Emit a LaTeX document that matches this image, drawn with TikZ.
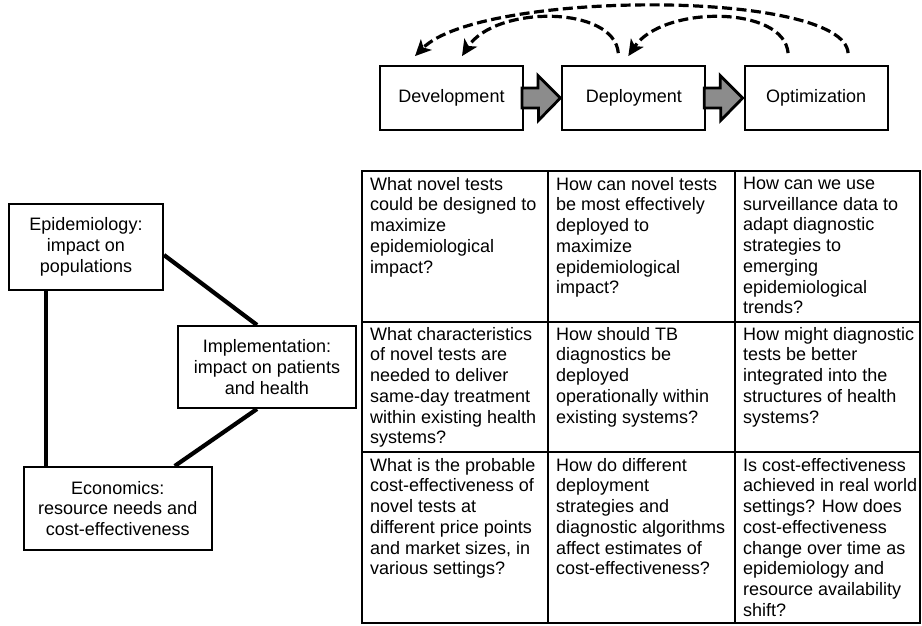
\documentclass[tikz,border=0pt]{standalone}
\usepackage{fontspec}
\setmainfont{Liberation Sans}
\usetikzlibrary{arrows.meta,positioning}

\begin{document}
\begin{tikzpicture}[x=1pt,y=1pt,font=\fontsize{18}{20.7}\selectfont,
        stagebox/.style={draw,line width=1.8pt,minimum width=143pt,minimum height=64pt,inner sep=0pt},
        topicbox/.style={draw,line width=2pt,align=center,inner sep=0pt},
        question/.style={anchor=north west,align=left,inner sep=0pt},
        pushto/.style={draw,fill=black!45,line width=2.8pt,line join=miter},
        feedback/.style={line width=3.2pt,dash pattern=on 10pt off 4.5pt,-{Stealth[length=16pt,width=15pt,inset=4pt]}},
        tie/.style={line width=4.2pt},
        tabrule/.style={line width=2.2pt}]
        \useasboundingbox (0,0) rectangle (922,625);

        \node[stagebox] (dev) at (451.5,527) {Development};
        \node[stagebox,right=37.5pt of dev] (dep) {Deployment};
        \node[stagebox,right=37.5pt of dep] (opt) {Optimization};
        \foreach \a/\b in {dev/dep,dep/opt}
            \draw[pushto] ([shift={(-2,10)}]\a.east) -- ++(16,0) -- ++(0,12.5) -- ([xshift=-1]\b.west)
            -- ++(-22,-22.5) -- ++(0,12.5) -- ([shift={(-2,-10)}]\a.east) -- cycle;
        \draw[feedback] ([shift={(32,12)}]opt.north) .. controls +(-4,64) and +(65,66) .. ([shift={(-36.5,9)}]dev.north);
        \draw[feedback] ([shift={(-15.5,12)}]dep.north) .. controls +(-4,48) and +(33,51) .. ([shift={(10.5,9)}]dev.north);
        \draw[feedback] ([shift={(-28,12)}]opt.north) .. controls +(-4,48) and +(34,51) .. ([shift={(-5.5,9)}]dep.north);

        \node[topicbox,minimum width=154pt,minimum height=86pt] (epi) at (86,378) {Epidemiology:\\impact on\\populations};
        \node[topicbox,minimum width=178pt,minimum height=82pt] (imp) at (267,258) {Implementation:\\impact on patients\\and health};
        \node[topicbox,minimum width=188.5pt,minimum height=83pt] (eco) at (117.75,116.5) {Economics:\\resource needs and\\cost-effectiveness};
        \draw[tie] ([xshift=-40]epi.south) -- ([xshift=-40]epi.south |- eco.north);
        \draw[tie] ([yshift=-8]epi.east) -- ([xshift=-10]imp.north);
        \draw[tie] ([xshift=-10]imp.south) -- ([xshift=57]eco.north);

        \draw[tabrule] (362,454) rectangle (920,2);
        \foreach \x in {548,735} \draw[tabrule] (\x,454) -- (\x,2);
        \foreach \y in {303,173} \draw[tabrule] (362,\y) -- (920,\y);

        \node[question] (q11) at (370,448) {What novel tests\\could be designed to\\maximize\\epidemiological\\impact?};
        \node[question] (q12) at (556,448) {How can novel tests\\be most effectively\\deployed to\\maximize\\epidemiological\\impact?};
        \node[question] (q13) at (743,448) {How can we use\\surveillance data to\\adapt diagnostic\\strategies to\\emerging\\epidemiological\\trends?};
        \node[question] (q21) at (370,298) {What characteristics\\of novel tests are\\needed to deliver\\same-day treatment\\within existing health\\systems?};
        \node[question] (q22) at (556,298) {How should TB\\diagnostics be\\deployed\\operationally within\\existing systems?};
        \node[question] (q23) at (743,298) {How might diagnostic\\tests be better\\integrated into the\\structures of health\\systems?};
        \node[question] (q31) at (370,167) {What is the probable\\cost-effectiveness of\\novel tests at\\different price points\\and market sizes, in\\various settings?};
        \node[question] (q32) at (556,167) {How do different\\deployment\\strategies and\\diagnostic algorithms\\affect estimates of\\cost-effectiveness?};
        \node[question] (q33) at (743,167) {Is cost-effectiveness\\achieved in real world\\settings? How does\\cost-effectiveness\\change over time as\\epidemiology and\\resource availability\\shift?};
\end{tikzpicture}
\end{document}
